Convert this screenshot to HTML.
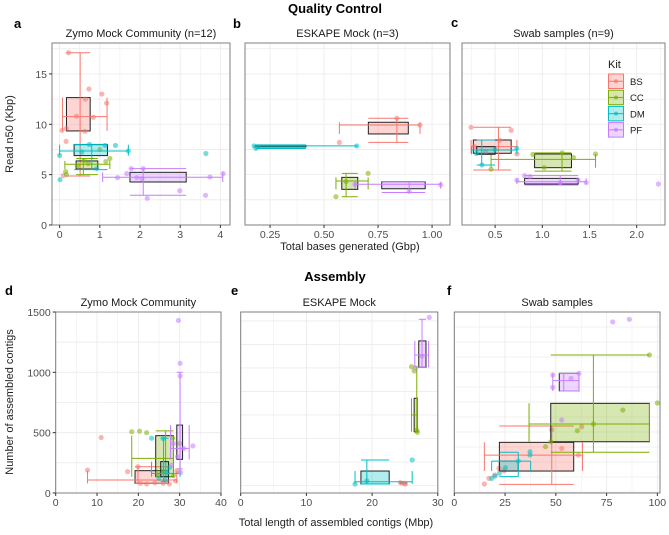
<!DOCTYPE html>
<html><head><meta charset="utf-8"><style>
body{margin:0;background:#fff}
svg{display:block;font-family:"Liberation Sans",Arial,sans-serif}
</style></head><body>
<svg id="chart" width="669" height="535" viewBox="0 0 669 535" xmlns="http://www.w3.org/2000/svg">
<text x="335" y="13" text-anchor="middle" font-size="13" font-weight="bold">Quality Control</text>
<text x="335" y="281" text-anchor="middle" font-size="13" font-weight="bold">Assembly</text>
<text x="14" y="28" font-size="13" font-weight="bold">a</text>
<text x="233" y="28" font-size="13" font-weight="bold">b</text>
<text x="451" y="27" font-size="13" font-weight="bold">c</text>
<text x="5" y="295" font-size="13" font-weight="bold">d</text>
<text x="231" y="295" font-size="13" font-weight="bold">e</text>
<text x="447" y="295" font-size="13" font-weight="bold">f</text>
<text transform="translate(13,134) rotate(-90)" text-anchor="middle" font-size="11" fill="#222">Read n50 (Kbp)</text>
<text x="350" y="250" text-anchor="middle" font-size="11" fill="#222">Total bases generated (Gbp)</text>
<text transform="translate(13,402) rotate(-90)" text-anchor="middle" font-size="11" fill="#222">Number of assembled contigs</text>
<text x="336" y="526" text-anchor="middle" font-size="11" fill="#222">Total length of assembled contigs (Mbp)</text>
</svg>
<script>
const kits=['BS','CC','DM','PF'];
const kitColors=['#F8766D','#7CAE00','#00BFC4','#C77CFF'];
// stats: [xmin,xq1,xmed,xq3,xmax, ymin,yq1,ymed,yq3,ymax]
const aBS=[0.07,0.17,0.51,0.76,1.18,4.87,9.34,10.76,12.65,17.1];
const aCC=[0.13,0.41,0.59,0.95,1.25,5.0,5.56,6.03,6.36,6.6];
const aDM=[0,0.36,0.8,1.19,1.71,5.5,6.89,7.35,7.98,8.0];
const aPF=[1.07,1.75,2.08,3.15,4.06,2.95,4.27,4.74,5.23,5.6];
const aBSpts=[[0.22,17.1],[0.73,13.5],[1.05,13.0],[0.64,12.5],[1.17,12.1],[0.42,10.8],[0.84,10.7],[0.06,9.4],[0.17,9.6],[0.63,9.3],[0.16,8.3],[0.09,4.9]];
const aCCpts=[[1.25,6.6],[1.15,6.3],[1.0,7.5],[0.15,5.3],[0.17,5.0],[0.44,5.9],[0.61,6.4],[0.71,6.1]];
const aDMpts=[[0,6.9],[0.01,4.5],[0.74,8.0],[1.13,7.9],[1.39,7.9],[0.92,5.6],[1.71,7.35],[3.64,7.1],[0.55,7.25]];
const aPFpts=[[1.78,5.6],[2.08,5.6],[1.44,4.7],[1.92,4.7],[2.05,4.6],[2.99,3.4],[2.18,2.65],[3.63,2.95],[3.74,4.77],[4.07,5.1],[1.67,5.1]];
const bBS=[0.571,0.705,0.837,0.890,0.944,8.2,9.04,9.93,10.2,10.6];
const bCC=[0.555,0.582,0.602,0.656,0.704,2.81,3.54,4.37,4.73,5.13];
const bDM=[0.176,0.183,0.2,0.416,0.651,7.6,7.75,7.85,7.9,7.95];
const bPF=[0.643,0.767,0.894,0.968,1.04,3.23,3.6,4.04,4.3,4.3];
const bBSpts=[[0.837,10.6],[0.944,9.93],[0.571,8.2]];
const bCCpts=[[0.704,5.13],[0.555,2.81],[0.602,4.3]];
const bDMpts=[[0.176,7.85],[0.185,7.6],[0.651,7.85]];
const bPFpts=[[0.894,3.33],[1.04,4.0],[0.643,4.04]];
const cBS=[0.245,0.269,0.535,0.670,0.731,5.46,7.12,7.78,8.44,9.7];
const cCC=[0.457,0.918,1.209,1.309,1.564,5.35,5.69,6.52,7.05,7.16];
const cDM=[0.25,0.305,0.358,0.5,0.73,5.96,7.02,7.45,7.78,8.44];
const cPF=[0.731,0.812,1.19,1.38,1.465,3.97,4.07,4.3,4.63,4.9];
const cBSpts=[[0.245,9.7],[0.670,9.4],[0.731,7.05],[0.28,7.8],[0.55,8.4],[0.4,7.3]];
const cCCpts=[[1.564,7.05],[0.457,5.54],[0.9,7.0],[1.02,5.7],[1.21,7.16],[1.33,6.7]];
const cDMpts=[[0.3,7.1],[0.73,7.6],[0.36,5.96],[0.5,7.5]];
const cPFpts=[[2.23,4.07],[0.731,4.45],[0.812,4.9],[0.87,4.8],[1.465,4.2],[1.38,4.45],[1.19,4.2]];
const dBS=[7.7,19.2,19.9,27.3,29.3,80,80,108,185,218];
const dCC=[18.4,24.2,26.6,28.5,28.5,135,135,287,475,515];
const dDM=[23.2,25.4,26.1,27.3,30.1,97,135,163,260,454];
const dPF=[27.8,29.3,30.1,30.7,32.3,200,279,370,563,1000];
const dBSpts=[[7.7,190],[11,460],[17.4,177],[19.9,218],[29.3,185],[20.5,80],[22,75],[24,85],[26,80],[27.5,75],[29,100]];
const dCCpts=[[18.4,508],[20.3,512],[22,500],[28.3,455],[28.5,145],[26,180],[25,150],[30,410]];
const dDMpts=[[23.2,454],[26,450],[27.5,210],[26.5,110],[25,120],[27,170]];
const dPFpts=[[29.7,1430],[30.1,1075],[30.1,970],[33.2,390],[28.5,410],[29.5,300],[30.2,170],[31,370],[28,230]];
const eBS=[24.2,24.3,24.7,25.2,25.2,15,15,20,28,28];
const eCC=[26.0,26.4,26.8,26.9,26.9,453,458,600,742,1011];
const eDM=[17.4,18.3,19.2,22.6,26.1,13,13,32,123,217];
const ePF=[26.5,27.1,27.6,28.2,28.6,1006,1006,1110,1230,1414];
const eBSpts=[[24.3,25],[24.8,18],[25.1,12]];
const eCCpts=[[26.0,1011],[26.4,975],[26.9,453],[26.8,470]];
const eDMpts=[[17.4,13],[26.1,217],[19.2,40]];
const ePFpts=[[28.7,1430],[27.6,1100],[26.6,1000]];
const fBS=[14.8,22.2,48.0,58.8,63.1,64,175,308,414,550];
const fCC=[36.8,47.5,68.5,96.1,96.1,331,419,567,739,1142];
const fDM=[18.4,22.2,31.5,31.5,37.6,128,175,258,258,331];
const fPF=[48.5,51.7,53.9,61.4,61.4,842,842,928,989,989];
const fBSpts=[[14.8,67],[17.1,114],[19.9,142],[22.0,197],[24.5,178],[52.9,364],[61.1,308],[62.7,544],[48,520]];
const fCCpts=[[100,742],[83,683],[68.5,567],[60.6,511],[44.9,378],[47.5,419],[96.1,1142]];
const fDMpts=[[37.3,336],[37.3,308],[31.5,258],[25.2,203],[22.2,156],[20,133],[18.4,114]];
const fPFpts=[[78,1417],[86.2,1439],[48.5,975],[48.5,872],[57.5,947],[61.4,989],[52.9,600]];
const xTicksA=[0,1,2,3,4], xTicksB=[0.25,0.5,0.75,1.0], xTicksC=[0.5,1.0,1.5,2.0];
const xLabelsB=['0.25','0.50','0.75','1.00'], xLabelsC=['0.5','1.0','1.5','2.0'];
const yTicksTop=[0,5,10,15];
const xTicksD=[0,10,20,30,40], xTicksE=[0,10,20,30], xTicksF=[0,25,50,75,100];
const yTicksBottom=[0,500,1000,1500];

const NS='http://www.w3.org/2000/svg';
const svg=document.getElementById('chart');
function el(tag,attrs,parent){const e=document.createElementNS(NS,tag);for(const k in attrs)e.setAttribute(k,attrs[k]);(parent||svg).appendChild(e);return e;}
function lin(d0,d1,r0,r1){return v=>r0+(v-d0)/(d1-d0)*(r1-r0);}

function panel(cfg){
  const g=el('g',{});
  
  
  const X=lin(cfg.xd[0],cfg.xd[1],cfg.x0,cfg.x1), Y=lin(cfg.yd[0],cfg.yd[1],cfg.y1,cfg.y0);
  // grid
  for(const v of cfg.xgrid){const p=X(v);if(p<cfg.x0||p>cfg.x1)continue;const l=el('line',{x1:p,x2:p,y1:cfg.y0,y2:cfg.y1,stroke:'#ebebeb','stroke-width':cfg.xmajor.includes(v)?0.9:0.5},g);}
  for(const v of cfg.ygrid){const p=Y(v);if(p<cfg.y0||p>cfg.y1)continue;const l=el('line',{x1:cfg.x0,x2:cfg.x1,y1:p,y2:p,stroke:'#ebebeb','stroke-width':0.8},g);}
  const st=el('text',{x:(cfg.x0+cfg.x1)/2,y:cfg.y0-6,'text-anchor':'middle','font-size':11,fill:'#1a1a1a'},g);
  st.textContent=cfg.title;
  
  
  cfg.groups.forEach((grp,i)=>{
    const s=grp.s,c=kitColors[i];
    const gg=el('g',{},g);
    
    
    const b=el('rect',{x:X(s[1]),y:Y(s[8]),width:Math.max(0.5,X(s[3])-X(s[1])),height:Math.max(0.5,Y(s[6])-Y(s[8])),fill:c,'fill-opacity':0.3,stroke:'#222','stroke-width':1},gg);
    
    
    const segs=[[X(s[0]),Y(s[7]),X(s[4]),Y(s[7])],[X(s[0]),Y(s[6]),X(s[0]),Y(s[8])],[X(s[4]),Y(s[6]),X(s[4]),Y(s[8])],
      [X(s[2]),Y(s[5]),X(s[2]),Y(s[9])],[X(s[1]),Y(s[5]),X(s[3]),Y(s[5])],[X(s[1]),Y(s[9]),X(s[3]),Y(s[9])]];
    for(const q of segs){const l=el('line',{x1:q[0],y1:q[1],x2:q[2],y2:q[3],stroke:c,'stroke-width':1},gg);}
    for(const p of grp.p){const d=el('circle',{cx:X(p[0]),cy:Y(p[1]),r:2.6,fill:c,'fill-opacity':0.55},gg);}
  });
  const fr=el('rect',{x:cfg.x0,y:cfg.y0,width:cfg.x1-cfg.x0,height:cfg.y1-cfg.y0,fill:'none',stroke:'#7f7f7f','stroke-width':1},g);
  
  
  cfg.xticks.forEach((v,k)=>{const p=X(v);el('line',{x1:p,x2:p,y1:cfg.y1,y2:cfg.y1+3,stroke:'#333'},g);
    const t=el('text',{x:p,y:cfg.y1+13,'text-anchor':'middle','font-size':10.5,fill:'#4d4d4d'},g);t.textContent=cfg.xlabels?cfg.xlabels[k]:String(v);
    
    });
  if(cfg.yticks){cfg.yticks.forEach(v=>{const p=Y(v);el('line',{x1:cfg.x0-3,x2:cfg.x0,y1:p,y2:p,stroke:'#333'},g);
    const t=el('text',{x:cfg.x0-5,y:p+4,'text-anchor':'end','font-size':10.5,fill:'#4d4d4d'},g);t.textContent=String(v);
    
    });}
}
function rng(a,b,s){const r=[];for(let v=a;v<=b+1e-9;v+=s)r.push(+v.toFixed(4));return r;}
panel({name:'panel-a',title:'Zymo Mock Community (n=12)',x0:52,x1:230,y0:43,y1:225,xd:[-0.19,4.24],yd:[0,18.07],
  xgrid:rng(0,4,0.5),xmajor:xTicksA,ygrid:rng(0,17.5,2.5),xticks:xTicksA,yticks:yTicksTop,
  groups:[{s:aBS,p:aBSpts},{s:aCC,p:aCCpts},{s:aDM,p:aDMpts},{s:aPF,p:aPFpts}]});
panel({name:'panel-b',title:'ESKAPE Mock (n=3)',x0:245,x1:450,y0:43,y1:225,xd:[0.134,1.083],yd:[0,18.07],
  xgrid:rng(0.125,1.0,0.125),xmajor:xTicksB,ygrid:rng(0,17.5,2.5),xticks:xTicksB,xlabels:xLabelsB,
  groups:[{s:bBS,p:bBSpts},{s:bCC,p:bCCpts},{s:bDM,p:bDMpts},{s:bPF,p:bPFpts}]});
panel({name:'panel-c',title:'Swab samples (n=9)',x0:462,x1:665,y0:43,y1:225,xd:[0.149,2.30],yd:[0,18.07],
  xgrid:rng(0.25,2.25,0.25),xmajor:xTicksC,ygrid:rng(0,17.5,2.5),xticks:xTicksC,xlabels:xLabelsC,
  groups:[{s:cBS,p:cBSpts},{s:cCC,p:cCCpts},{s:cDM,p:cDMpts},{s:cPF,p:cPFpts}]});
panel({name:'panel-d',title:'Zymo Mock Community',x0:55.7,x1:221,y0:312,y1:493,xd:[0,40],yd:[0,1500],
  xgrid:rng(0,40,5),xmajor:xTicksD,ygrid:rng(0,1500,250),xticks:xTicksD,yticks:yTicksBottom,
  groups:[{s:dBS,p:dBSpts},{s:dCC,p:dCCpts},{s:dDM,p:dDMpts},{s:dPF,p:dPFpts}]});
panel({name:'panel-e',title:'ESKAPE Mock',x0:240.7,x1:437.8,y0:312,y1:493,xd:[0,30],yd:[-64,1476],
  xgrid:rng(0,30,5),xmajor:xTicksE,ygrid:rng(0,1400,200),xticks:xTicksE,
  groups:[{s:eBS,p:eBSpts},{s:eCC,p:eCCpts},{s:eDM,p:eDMpts},{s:ePF,p:ePFpts}]});
panel({name:'panel-f',title:'Swab samples',x0:454.3,x1:660,y0:312,y1:493,xd:[0,101.3],yd:[-8,1500],
  xgrid:rng(0,100,12.5),xmajor:xTicksF,ygrid:rng(0,1500,125),xticks:xTicksF,
  groups:[{s:fBS,p:fBSpts},{s:fCC,p:fCCpts},{s:fDM,p:fDMpts},{s:fPF,p:fPFpts}]});
// legend
const lg=el('g',{});


const lt=el('text',{x:608,y:68,'font-size':11,fill:'#1a1a1a'},lg);lt.textContent='Kit';
kits.forEach((k,i)=>{
  const y=74+i*16.2,c=kitColors[i];
  const e=el('g',{},lg);
  
  
  el('rect',{x:608.5,y:y,width:15,height:14.5,fill:c,'fill-opacity':0.3,stroke:c,'stroke-width':1},e);
  el('line',{x1:609,x2:623,y1:y+7.25,y2:y+7.25,stroke:c},e);
  el('circle',{cx:616,cy:y+7.25,r:2,fill:c,'fill-opacity':0.7},e);
  const t=el('text',{x:630,y:y+11,'font-size':9.5,fill:'#1a1a1a'},e);t.textContent=k;
});
</script>
</body></html>
